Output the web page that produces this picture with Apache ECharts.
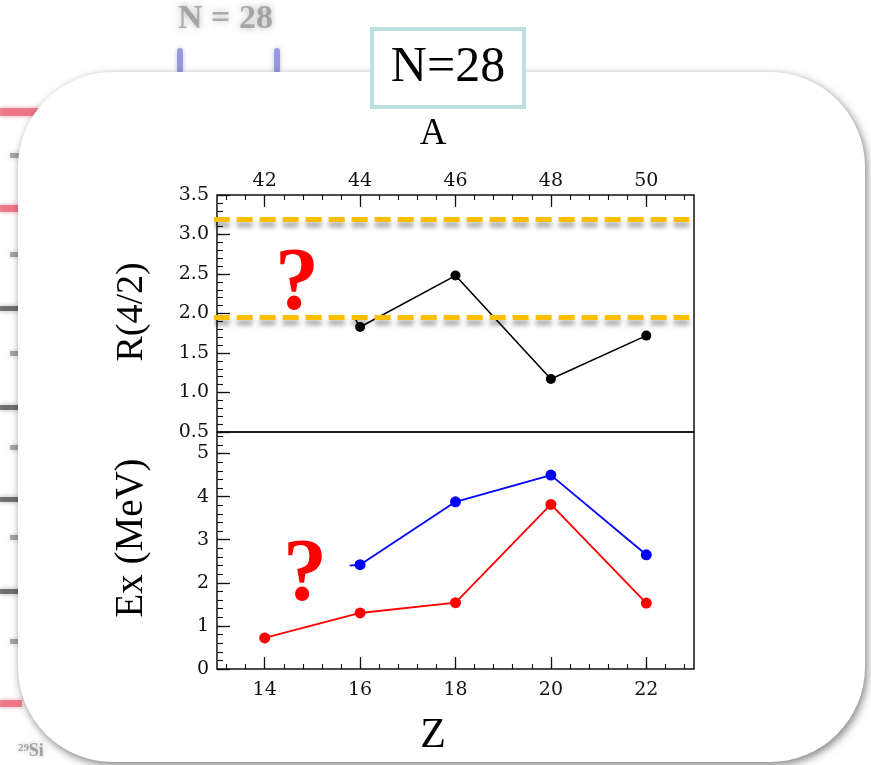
<!DOCTYPE html>
<html>
<head>
<meta charset="utf-8">
<style>html,body{margin:0;padding:0;background:#fff;}#c{width:871px;height:765px;}</style>
<script src="https://cdn.jsdelivr.net/npm/echarts@6/dist/echarts.min.js"></script>
</head>
<body>
<div id="c"></div>
<script>
// ---- data ----
const zMajor = [14, 16, 18, 20, 22];
const nNeutrons = 28;                 // A = Z + N
const r42Z = [16, 18, 20, 22];
const r42Val = [1.83, 2.48, 1.17, 1.72];
const r42LeadIn = [[15.85, 1.98], [16, 1.83]];
const e2Z = [14, 16, 18, 20, 22];
const e2Val = [0.72, 1.30, 1.54, 3.82, 1.53];
const e4Z = [16, 18, 20, 22];
const e4Val = [2.42, 3.88, 4.50, 2.65];
const e4LeadIn = [[15.78, 2.40], [16, 2.42]];
const refLevels = [3.19, 1.95];
const refXSpan = [12.93, 22.9];
const rTicks = [0.5, 1.0, 1.5, 2.0, 2.5, 3.0, 3.5];
const eTicks = [0, 1, 2, 3, 4, 5];

const minorX = [];
for (let v = 13.2; v < 23.001; v += 0.4) minorX.push(+v.toFixed(2));

const zip = (xs, ys) => xs.map((x, i) => [x, ys[i]]);

const labelFont = {fontFamily: 'DejaVu Serif', fontSize: 19, color: '#111'};
const serif = 'Liberation Serif';

const G0 = {left: 217, top: 195, width: 477, height: 237};
const G1 = {left: 217, top: 432, width: 477, height: 237};

function xMajor(grid, pos, fmt, margin) {
  return {
    type: 'value', gridIndex: grid, position: pos, min: 13, max: 23,
    axisLine: {show: false}, splitLine: {show: false},
    axisTick: {show: true, inside: true, length: 12, customValues: zMajor, lineStyle: {color: '#111', width: 1.3}},
    axisLabel: {show: true, customValues: zMajor, formatter: fmt, margin: margin, ...labelFont}
  };
}
function xMinor(grid, pos) {
  return {
    type: 'value', gridIndex: grid, position: pos, min: 13, max: 23,
    axisLine: {show: false}, splitLine: {show: false},
    axisTick: {show: true, inside: true, length: 5, customValues: minorX, lineStyle: {color: '#111', width: 1.1}},
    axisLabel: {show: false}
  };
}

const option = {
  animation: false,
  backgroundColor: '#fff',
  grid: [
    Object.assign({show: true, borderColor: '#111', borderWidth: 1.5, backgroundColor: 'transparent'}, G0),
    Object.assign({show: true, borderColor: '#111', borderWidth: 1.5, backgroundColor: 'transparent'}, G1)
  ],
  xAxis: [
    xMajor(0, 'top', v => String(v + nNeutrons), 4),
    xMinor(0, 'top'),
    xMajor(1, 'bottom', v => String(v), 12),
    xMinor(1, 'bottom')
  ],
  yAxis: [
    {type: 'value', gridIndex: 0, position: 'left', min: 0.5, max: 3.5,
     axisLine: {show: false}, splitLine: {show: false},
     axisTick: {show: true, inside: true, length: 13, customValues: rTicks, lineStyle: {color: '#111', width: 1.3}},
     axisLabel: {customValues: rTicks, formatter: v => v.toFixed(1), margin: 8, ...labelFont}},
    {type: 'value', gridIndex: 0, position: 'left', min: 0.5, max: 3.5, interval: 0.1,
     axisLine: {show: false}, splitLine: {show: false},
     axisTick: {show: true, inside: true, length: 6, lineStyle: {color: '#111', width: 1.1}},
     axisLabel: {show: false}},
    {type: 'value', gridIndex: 1, position: 'left', min: 0, max: 5.5,
     axisLine: {show: false}, splitLine: {show: false},
     axisTick: {show: true, inside: true, length: 13, customValues: eTicks, lineStyle: {color: '#111', width: 1.3}},
     axisLabel: {customValues: eTicks, margin: 8, ...labelFont}},
    {type: 'value', gridIndex: 1, position: 'left', min: 0, max: 5.5, interval: 0.2,
     axisLine: {show: false}, splitLine: {show: false},
     axisTick: {show: true, inside: true, length: 6, lineStyle: {color: '#111', width: 1.1}},
     axisLabel: {show: false}}
  ],
  series: [
    {type: 'line', xAxisIndex: 0, yAxisIndex: 0, data: zip(r42Z, r42Val), symbol: 'circle', symbolSize: 10,
     itemStyle: {color: '#000'}, lineStyle: {color: '#000', width: 1.6}, z: 3},
    {type: 'line', xAxisIndex: 0, yAxisIndex: 0, data: r42LeadIn, showSymbol: false, symbol: 'none',
     lineStyle: {color: '#000', width: 1.6}, z: 3},
    ...refLevels.map(y => ({
      type: 'line', xAxisIndex: 0, yAxisIndex: 0, clip: false, symbol: 'none',
      data: refXSpan.map(x => [x, y]),
      lineStyle: {color: '#FFBE00', width: 5, type: [16, 7], shadowColor: 'rgba(0,0,0,0.38)', shadowBlur: 5, shadowOffsetY: 5},
      z: 5
    })),
    {type: 'line', xAxisIndex: 2, yAxisIndex: 2, data: zip(e4Z, e4Val), symbol: 'circle', symbolSize: 11,
     itemStyle: {color: '#0000FF'}, lineStyle: {color: '#0000FF', width: 1.8}, z: 3},
    {type: 'line', xAxisIndex: 2, yAxisIndex: 2, data: e4LeadIn, symbol: 'none',
     lineStyle: {color: '#0000FF', width: 1.8}, z: 3},
    {type: 'line', xAxisIndex: 2, yAxisIndex: 2, data: zip(e2Z, e2Val), symbol: 'circle', symbolSize: 11,
     itemStyle: {color: '#FF0000'}, lineStyle: {color: '#FF0000', width: 1.8}, z: 3}
  ],
  graphic: [
    // blurred background slide remnants
    {type: 'text', z: -200, left: 178, top: 2, style: {text: 'N = 28', font: 'bold 34px ' + serif, fill: 'rgba(110,110,110,0.5)', textShadowColor: 'rgba(90,90,90,0.9)', textShadowBlur: 7}},
    {type: 'rect', z: -200, shape: {x: 177, y: 48, width: 6, height: 25, r: 3}, style: {fill: 'rgba(110,110,210,0.6)', shadowColor: 'rgba(110,110,210,0.7)', shadowBlur: 5}},
    {type: 'rect', z: -200, shape: {x: 274, y: 48, width: 6, height: 25, r: 3}, style: {fill: 'rgba(110,110,210,0.6)', shadowColor: 'rgba(110,110,210,0.7)', shadowBlur: 5}},
    {type: 'rect', z: -200, shape: {x: 0, y: 108, width: 60, height: 8}, style: {fill: 'rgba(235,90,110,0.7)', shadowColor: 'rgba(235,90,110,0.7)', shadowBlur: 5}},
    {type: 'rect', z: -200, shape: {x: 0, y: 205, width: 20, height: 7}, style: {fill: 'rgba(235,90,110,0.7)', shadowColor: 'rgba(235,90,110,0.7)', shadowBlur: 5}},
    {type: 'rect', z: -200, shape: {x: 0, y: 700, width: 22, height: 7}, style: {fill: 'rgba(235,90,110,0.7)', shadowColor: 'rgba(235,90,110,0.7)', shadowBlur: 5}},
    ...[155, 254, 353, 447, 537, 641].map(y => ({type: 'rect', z: -200, shape: {x: 10, y: y - 2, width: 12, height: 5}, style: {fill: 'rgba(100,100,100,0.5)', shadowColor: 'rgba(100,100,100,0.6)', shadowBlur: 5}})),
    ...[308, 407, 499, 591].map(y => ({type: 'rect', z: -200, shape: {x: 0, y: y - 2, width: 20, height: 5}, style: {fill: 'rgba(60,60,60,0.65)', shadowColor: 'rgba(60,60,60,0.6)', shadowBlur: 5}})),
    {type: 'text', z: -200, left: 18, top: 742, style: {text: '²⁹Si', font: 'bold 18px ' + serif, fill: 'rgba(90,90,90,0.5)', textShadowColor: 'rgba(90,90,90,0.7)', textShadowBlur: 5}},
    // white rounded panel
    {type: 'rect', z: -100, shape: {x: 18, y: 72, width: 847, height: 690, r: 95},
     style: {fill: '#fff', shadowColor: 'rgba(0,0,0,0.5)', shadowBlur: 8, shadowOffsetX: 2, shadowOffsetY: 3}},
    // title box
    {type: 'rect', z: 50, shape: {x: 372, y: 29, width: 152, height: 78},
     style: {fill: '#fff', stroke: '#bcdfe1', lineWidth: 4}},
    {type: 'text', z: 51, x: 448, y: 68, style: {text: 'N=28', font: '50px ' + serif, fill: '#000', align: 'center', verticalAlign: 'middle'}},
    // axis titles
    {type: 'text', z: 51, x: 433, y: 134, style: {text: 'A', font: '37px ' + serif, fill: '#000', align: 'center', verticalAlign: 'middle'}},
    {type: 'text', z: 51, x: 433, y: 736, style: {text: 'Z', font: '42px ' + serif, fill: '#000', align: 'center', verticalAlign: 'middle'}},
    {type: 'text', z: 51, x: 132, y: 312, rotation: Math.PI / 2, style: {text: 'R(4/2)', font: '38px ' + serif, fill: '#000', align: 'center', verticalAlign: 'middle'}},
    {type: 'text', z: 51, x: 132, y: 538, rotation: Math.PI / 2, style: {text: 'Ex (MeV)', font: '39px ' + serif, fill: '#000', align: 'center', verticalAlign: 'middle'}},
    // question marks
    {type: 'text', z: 51, x: 297, y: 285, style: {text: '?', font: 'bold 88px ' + serif, fill: '#FF0000', align: 'center', verticalAlign: 'middle'}},
    {type: 'text', z: 51, x: 305, y: 576, style: {text: '?', font: 'bold 88px ' + serif, fill: '#FF0000', align: 'center', verticalAlign: 'middle'}}
  ]
};

const chart = echarts.init(document.getElementById('c'), null, {renderer: 'canvas'});
chart.setOption(option);
</script>
</body>
</html>
